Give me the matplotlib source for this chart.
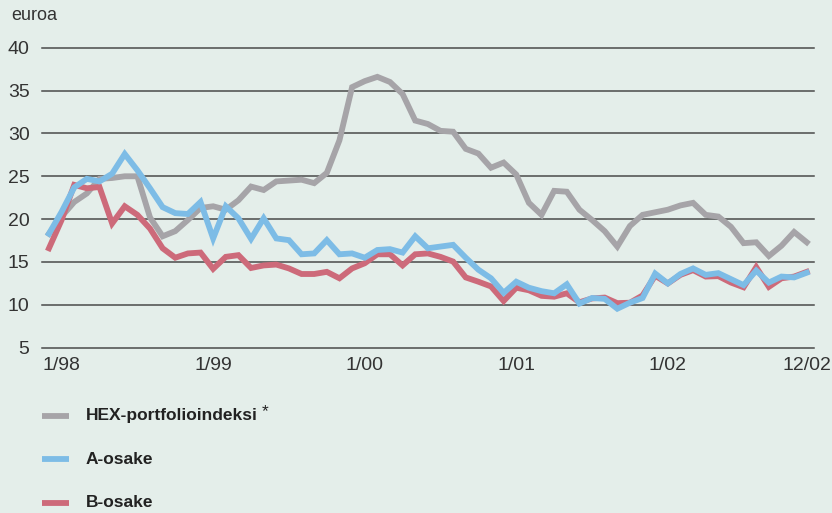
import matplotlib.pyplot as plt
import numpy as np

# Monthly prices 12/97 - 12/02, euros
hex_index = [18.3, 20.3, 22.0, 23.0, 24.7, 24.8, 25.0, 25.0, 20.2, 18.0,
             18.6, 19.9, 21.3, 21.5, 21.1, 22.2, 23.8, 23.4, 24.4, 24.5,
             24.6, 24.2, 25.4, 29.2, 35.4, 36.1, 36.6, 36.0, 34.6, 31.5,
             31.1, 30.3, 30.2, 28.2, 27.65, 26.0, 26.6, 25.2, 21.9, 20.5,
             23.3, 23.2, 21.1, 19.9, 18.6, 16.8, 19.2, 20.5, 20.8, 21.1,
             21.6, 21.9, 20.5, 20.3, 19.1, 17.2, 17.3, 15.7, 16.9, 18.5,
             17.3]
a_share = [18.3, 20.85, 23.7, 24.7, 24.4, 25.3, 27.6, 25.7, 23.6, 21.4,
           20.7, 20.6, 22.0, 17.75, 21.5, 20.1, 17.7, 20.1, 17.75, 17.55,
           15.9, 16.0, 17.55, 15.9, 16.0, 15.5, 16.4, 16.5, 16.1, 18.0,
           16.6, 16.8, 17.0, 15.5, 14.1, 13.1, 11.4, 12.7, 12.0, 11.6,
           11.35, 12.4, 10.15, 10.8, 10.7, 9.55, 10.25, 10.8, 13.65, 12.5,
           13.6, 14.25, 13.5, 13.7, 13.0, 12.3, 14.0, 12.6, 13.3, 13.2,
           13.75]
b_share = [16.6, 19.9, 24.0, 23.6, 23.75, 19.5, 21.5, 20.5, 18.9, 16.6,
           15.5, 16.0, 16.1, 14.2, 15.6, 15.8, 14.3, 14.6, 14.7, 14.25,
           13.6, 13.6, 13.85, 13.1, 14.25, 14.85, 15.9, 15.9, 14.6, 15.9,
           16.0, 15.6, 15.05, 13.2, 12.7, 12.15, 10.45, 12.0, 11.7, 11.05,
           10.95, 11.35, 10.3, 10.75, 10.85, 10.2, 10.25, 11.1, 13.4, 12.5,
           13.5, 14.05, 13.3, 13.35, 12.6, 12.05, 14.4, 12.1, 13.1, 13.3,
           13.85]

tick_pos = [1, 13, 25, 37, 49, 60]
tick_labels = ['1/98', '1/99', '1/00', '1/01', '1/02', '12/02']
y_ticks = [5, 10, 15, 20, 25, 30, 35, 40]

names = ['HEX-portfolioindeksi', 'A-osake', 'B-osake']
colors = ['#a6a4a8', '#7dbce6', '#cd6a7a']

bg = '#e4eeea'
txt = '#333333'
plt.rcParams['font.family'] = ['Liberation Sans', 'DejaVu Sans']

fig = plt.figure(figsize=(8.32, 5.13), dpi=100, facecolor=bg)
ax = fig.add_axes([0.0505, 0.3222, 0.9275, 0.5848], facecolor=bg)

x = np.arange(len(hex_index))
for series, c in zip([hex_index, b_share, a_share], [colors[0], colors[2], colors[1]]):
    ax.plot(x, series, color=c, lw=4.2, solid_joinstyle='miter', clip_on=False, zorder=3)

ax.set_xlim(-0.55, 60.55)
ax.set_ylim(5, 40)
ax.set_yticks(y_ticks)
ax.set_xticks(tick_pos)
ax.set_xticklabels(tick_labels)
for y in y_ticks:
    ax.axhline(y, color='#4a4a4a', lw=1.1, zorder=1, clip_on=False)
for s in ax.spines.values():
    s.set_visible(False)
ax.tick_params(axis='both', length=0, labelsize=14, colors=txt)
ax.tick_params(axis='y', pad=9)
ax.tick_params(axis='x', pad=7)

fig.text(11 / 832, 1 - 16 / 513, 'euroa', fontsize=13, color=txt, va='center', ha='left')

# legend below the plot
leg_y = [415.7, 459, 502.7]
fig.canvas.draw()
renderer = fig.canvas.get_renderer()
for name, c, yp in zip(names, colors, leg_y):
    yf = 1 - yp / 513
    fig.add_artist(plt.Line2D([42 / 832, 69 / 832], [yf, yf], color=c, lw=4.2,
                              solid_capstyle='butt'))
    t = fig.text(86 / 832, yf, name, fontsize=12.5, fontweight='bold', color='#222222',
                 va='center', ha='left')
    if name.startswith('HEX'):
        bb = t.get_window_extent(renderer)
        fig.text((bb.x1 + 4) / 832, yf + 0.008, '*', fontsize=12.5, color='#222222',
                 va='center', ha='left')

fig.savefig('out.png', dpi=100, facecolor=bg)
